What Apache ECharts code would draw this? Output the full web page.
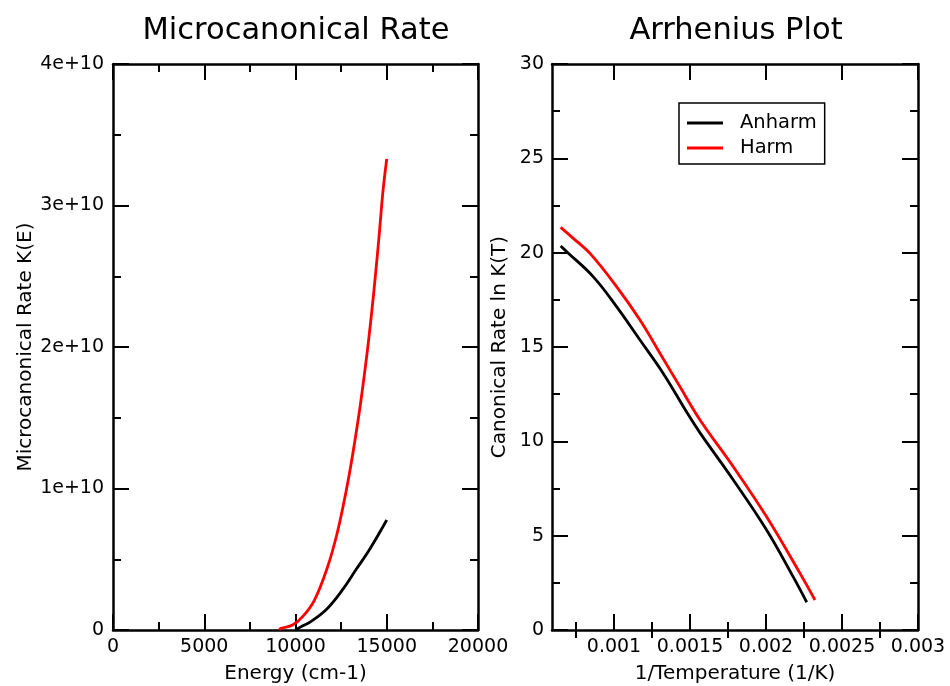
<!DOCTYPE html>
<html>
<head>
<meta charset="utf-8">
<script src="https://cdn.jsdelivr.net/npm/echarts@6/dist/echarts.min.js"></script>
<style>
  html, body { margin: 0; padding: 0; background: #ffffff; }
  #main { width: 950px; height: 686px; }
</style>
</head>
<body>
<div id="main"></div>
<script>
// Microcanonical rate k(E) against energy (cm-1)
const energyHarm   = [9100, 9210, 9840, 10390, 11040, 11760, 12280, 12680, 13020, 13320, 13590, 13920, 14170, 14390, 14590, 14800, 15000];
const rateHarm     = [0, 0.012e10, 0.035e10, 0.094e10, 0.212e10, 0.447e10, 0.683e10, 0.92e10, 1.154e10, 1.39e10, 1.625e10, 1.955e10, 2.24e10, 2.52e10, 2.80e10, 3.11e10, 3.33e10];
const energyAnharm = [10000, 10400, 10750, 11660, 12570, 13300, 14040, 15000];
const rateAnharm   = [0, 0.03e10, 0.052e10, 0.141e10, 0.283e10, 0.424e10, 0.565e10, 0.777e10];

// Arrhenius plot: ln k(T) against 1/T
const invTempHarm   = [0.000649, 0.000732, 0.000842, 0.001018, 0.001171, 0.001303, 0.001434, 0.001566, 0.001785, 0.002004, 0.002224, 0.002322];
const lnRateHarm    = [21.34, 20.76, 19.96, 18.19, 16.43, 14.66, 12.89, 11.13, 8.65, 6.0, 3.0, 1.59];
const invTempAnharm = [0.000649, 0.000689, 0.000864, 0.001018, 0.001171, 0.001324, 0.001478, 0.001566, 0.001785, 0.002004, 0.00218, 0.002268];
const lnRateAnharm  = [20.35, 20.05, 18.72, 17.13, 15.37, 13.60, 11.55, 10.45, 7.95, 5.3, 2.8, 1.47];

// Tick positions for the 1/T axis
const invTempMajorTicks = [0.001, 0.0015, 0.002, 0.0025, 0.003];
const invTempMinorTicks = [0.00075, 0.00125, 0.00175, 0.00225, 0.00275];

const FONT = 'DejaVu Sans';
const INK = '#000000';
const FRAME_W = 2.5;
const MAJOR_LEN = 16;
const MINOR_LEN = 8;
const LINE_W = 2.8;
const SMOOTH = 0.4;

function zip(xs, ys) { return xs.map((x, i) => [x, ys[i]]); }

function frameAxis(extra) {
  return Object.assign({
    type: 'value',
    splitLine: { show: false },
    axisLine: { show: true, onZero: false, lineStyle: { color: INK, width: FRAME_W } },
    axisTick: { show: true, inside: true, length: MAJOR_LEN, lineStyle: { color: INK, width: 2 } },
    minorTick: { show: true, splitNumber: 2, length: MINOR_LEN, lineStyle: { color: INK, width: 2 } },
    axisLabel: { show: false },
    nameTextStyle: { color: INK, fontFamily: FONT, fontSize: 20 }
  }, extra);
}

function tickLabels(extra) {
  return Object.assign({ show: true, color: INK, fontFamily: FONT, fontSize: 19, margin: 8 }, extra);
}

const chart = echarts.init(document.getElementById('main'), null, { renderer: 'canvas' });

const option = {
  backgroundColor: '#ffffff',
  animation: false,
  textStyle: { fontFamily: FONT, color: INK },
  title: [
    { text: 'Microcanonical Rate', left: 296, top: 16, textAlign: 'center', padding: 0,
      textStyle: { fontFamily: FONT, fontSize: 30.5, fontWeight: 'normal', color: INK } },
    { text: 'Arrhenius Plot', left: 736, top: 16, textAlign: 'center', padding: 0,
      textStyle: { fontFamily: FONT, fontSize: 30.5, fontWeight: 'normal', color: INK } }
  ],
  legend: {
    data: ['Anharm', 'Harm'],
    orient: 'vertical',
    left: 679, top: 103,
    icon: 'rect',
    itemWidth: 36, itemHeight: 3,
    itemGap: 5,
    padding: [10, 8, 6, 8],
    borderColor: INK, borderWidth: 1.5,
    textStyle: { fontFamily: FONT, fontSize: 19.5, color: INK, lineHeight: 20, padding: [0, 0, 0, 12] }
  },
  grid: [
    { left: 113, top: 64, width: 365, height: 566, containLabel: false, outerBoundsMode: 'none' },
    { left: 552, top: 64, width: 366, height: 566, containLabel: false, outerBoundsMode: 'none' }
  ],
  xAxis: [
    // left plot: energy
    frameAxis({ gridIndex: 0, position: 'bottom', min: 0, max: 20000, interval: 5000,
      axisLabel: tickLabels({ formatter: v => String(v) }),
      name: 'Energy (cm-1)', nameLocation: 'middle', nameGap: 34 }),
    frameAxis({ gridIndex: 0, position: 'top', min: 0, max: 20000, interval: 5000 }),
    // right plot: inverse temperature
    frameAxis({ gridIndex: 1, position: 'bottom', min: 0.000592, max: 0.003,
      minorTick: { show: false },
      axisTick: { show: true, inside: true, length: MAJOR_LEN, customValues: invTempMajorTicks, lineStyle: { color: INK, width: 2 } },
      axisLabel: tickLabels({ customValues: invTempMajorTicks, formatter: v => String(+Number(v).toPrecision(6)) }),
      name: '1/Temperature (1/K)', nameLocation: 'middle', nameGap: 34 }),
    frameAxis({ gridIndex: 1, position: 'bottom', min: 0.000592, max: 0.003,
      axisLine: { show: false }, minorTick: { show: false },
      axisTick: { show: true, inside: true, length: MINOR_LEN, customValues: invTempMinorTicks, lineStyle: { color: INK, width: 2 } } }),
    frameAxis({ gridIndex: 1, position: 'top', min: 0.000592, max: 0.003,
      minorTick: { show: false },
      axisTick: { show: true, inside: true, length: MAJOR_LEN, customValues: invTempMajorTicks, lineStyle: { color: INK, width: 2 } } }),
    frameAxis({ gridIndex: 1, position: 'top', min: 0.000592, max: 0.003,
      axisLine: { show: false }, minorTick: { show: false },
      axisTick: { show: true, inside: true, length: MINOR_LEN, customValues: invTempMinorTicks, lineStyle: { color: INK, width: 2 } } })
  ],
  yAxis: [
    frameAxis({ gridIndex: 0, position: 'left', min: 0, max: 4e10, interval: 1e10,
      axisLabel: tickLabels({ margin: 9, formatter: v => (v === 0 ? '0' : (v / 1e10) + 'e+10') }),
      name: 'Microcanonical Rate K(E)', nameLocation: 'middle', nameGap: 76, nameRotate: 90 }),
    frameAxis({ gridIndex: 0, position: 'right', min: 0, max: 4e10, interval: 1e10 }),
    frameAxis({ gridIndex: 1, position: 'left', min: 0, max: 30, interval: 5,
      axisLabel: tickLabels({ margin: 8 }),
      name: 'Canonical Rate ln K(T)', nameLocation: 'middle', nameGap: 42, nameRotate: 90 }),
    frameAxis({ gridIndex: 1, position: 'right', min: 0, max: 30, interval: 5 })
  ],
  series: [
    { name: 'Anharm', type: 'line', xAxisIndex: 0, yAxisIndex: 0, data: zip(energyAnharm, rateAnharm),
      showSymbol: false, symbol: 'none', smooth: SMOOTH,
      lineStyle: { color: '#000000', width: LINE_W }, itemStyle: { color: '#000000' } },
    { name: 'Harm', type: 'line', xAxisIndex: 0, yAxisIndex: 0, data: zip(energyHarm, rateHarm),
      showSymbol: false, symbol: 'none', smooth: SMOOTH,
      lineStyle: { color: '#ff0000', width: LINE_W }, itemStyle: { color: '#ff0000' } },
    { name: 'Anharm', type: 'line', xAxisIndex: 2, yAxisIndex: 2, data: zip(invTempAnharm, lnRateAnharm),
      showSymbol: false, symbol: 'none', smooth: SMOOTH,
      lineStyle: { color: '#000000', width: LINE_W }, itemStyle: { color: '#000000' } },
    { name: 'Harm', type: 'line', xAxisIndex: 2, yAxisIndex: 2, data: zip(invTempHarm, lnRateHarm),
      showSymbol: false, symbol: 'none', smooth: SMOOTH,
      lineStyle: { color: '#ff0000', width: LINE_W }, itemStyle: { color: '#ff0000' } }
  ]
};

chart.setOption(option);
</script>
</body>
</html>
